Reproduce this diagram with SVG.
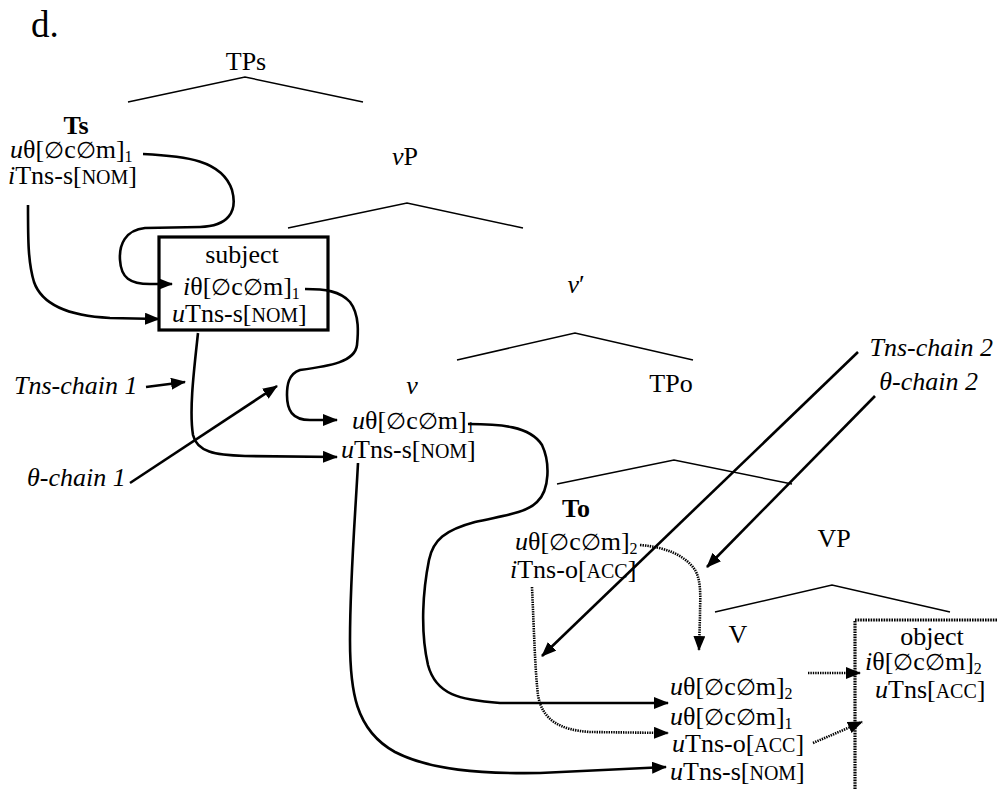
<svg xmlns="http://www.w3.org/2000/svg" width="997" height="789" viewBox="0 0 997 789">
<defs>
<style>
text{font-family:"Liberation Serif","Times New Roman","DejaVu Serif",serif;font-size:26px;fill:#000}
.it{font-style:italic}
.b{font-weight:bold}
.sc{font-size:20px}
.sub{font-size:16px}
.e{font-size:23px}
.tree{fill:none;stroke:#000;stroke-width:1.5}
.con{fill:none;stroke:#000;stroke-width:2.6}
.dot{fill:none;stroke:#000;stroke-width:2.6;stroke-dasharray:1.4 1}
.box{fill:none;stroke:#000;stroke-width:3.2}
.dbox{fill:none;stroke:#000;stroke-width:3.2;stroke-dasharray:1.6 1}
</style>
<marker id="ah" markerWidth="16" markerHeight="12" refX="14" refY="6" orient="auto" markerUnits="userSpaceOnUse">
<path d="M0,0 L15,6 L0,12 Z" fill="#000"/>
</marker>
</defs>
<text x="31" y="37" style="font-size:37px">d.</text>
<g id="tree">
<path class="tree" d="M128,102 L245,77 L363,102"/>
<path class="tree" d="M288,228 L407,203 L523,228"/>
<path class="tree" d="M457,360 L575,333 L693,360"/>
<path class="tree" d="M557,484 L674,460 L792,484"/>
<path class="tree" d="M715,612 L832,585 L950,612"/>
</g>
<g id="TPs"><text x="246" y="70" text-anchor="middle">TPs</text></g>
<g id="Ts">
<text x="76" y="134" text-anchor="middle" class="b">Ts</text>
<text x="10" y="158"><tspan class="it">u</tspan>θ[<tspan class="e">∅</tspan>c<tspan class="e">∅</tspan>m]<tspan class="sub" dy="4">1</tspan></text>
<text x="8" y="184"><tspan class="it">i</tspan>Tns-s[<tspan class="sc">NOM</tspan>]</text>
</g>
<g id="vP"><text x="405" y="165" text-anchor="middle"><tspan class="it">v</tspan>P</text></g>
<g id="subject">
<rect class="box" x="159" y="237" width="169" height="93"/>
<text x="242" y="263" text-anchor="middle">subject</text>
<text x="183" y="295"><tspan class="it">i</tspan>θ[<tspan class="e">∅</tspan>c<tspan class="e">∅</tspan>m]<tspan class="sub" dy="4">1</tspan></text>
<text x="172" y="322"><tspan class="it">u</tspan>Tns-s[<tspan class="sc">NOM</tspan>]</text>
</g>
<g id="vbar"><text x="576" y="293" text-anchor="middle"><tspan class="it">v</tspan>′</text></g>
<g id="v">
<text x="412" y="394" text-anchor="middle" class="it">v</text>
<text x="352" y="429"><tspan class="it">u</tspan>θ[<tspan class="e">∅</tspan>c<tspan class="e">∅</tspan>m]<tspan class="sub" dy="4">1</tspan></text>
<text x="341" y="458"><tspan class="it">u</tspan>Tns-s[<tspan class="sc">NOM</tspan>]</text>
</g>
<g id="TPo"><text x="671" y="392" text-anchor="middle">TPo</text></g>
<g id="labels">
<text x="993" y="356" text-anchor="end" class="it">Tns-chain 2</text>
<text x="978" y="390" text-anchor="end" class="it">θ-chain 2</text>
<text x="14" y="394" class="it">Tns-chain 1</text>
<text x="27" y="486" class="it">θ-chain 1</text>
</g>
<g id="To">
<text x="576" y="517" text-anchor="middle" class="b">To</text>
<text x="515" y="550"><tspan class="it">u</tspan>θ[<tspan class="e">∅</tspan>c<tspan class="e">∅</tspan>m]<tspan class="sub" dy="4">2</tspan></text>
<text x="510" y="578"><tspan class="it">i</tspan>Tns-o[<tspan class="sc">ACC</tspan>]</text>
</g>
<g id="VP"><text x="834" y="547" text-anchor="middle">VP</text></g>
<g id="V">
<text x="738" y="643" text-anchor="middle">V</text>
<text x="670" y="695"><tspan class="it">u</tspan>θ[<tspan class="e">∅</tspan>c<tspan class="e">∅</tspan>m]<tspan class="sub" dy="4">2</tspan></text>
<text x="670" y="725"><tspan class="it">u</tspan>θ[<tspan class="e">∅</tspan>c<tspan class="e">∅</tspan>m]<tspan class="sub" dy="4">1</tspan></text>
<text x="672" y="752"><tspan class="it">u</tspan>Tns-o[<tspan class="sc">ACC</tspan>]</text>
<text x="670" y="780"><tspan class="it">u</tspan>Tns-s[<tspan class="sc">NOM</tspan>]</text>
</g>
<g id="object">
<path class="dbox" d="M855,789 L855,620 L997,620"/>
<text x="932" y="645" text-anchor="middle">object</text>
<text x="865" y="670"><tspan class="it">i</tspan>θ[<tspan class="e">∅</tspan>c<tspan class="e">∅</tspan>m]<tspan class="sub" dy="4">2</tspan></text>
<text x="875" y="698"><tspan class="it">u</tspan>Tns[<tspan class="sc">ACC</tspan>]</text>
</g>
<g id="connectors">
<path class="con" marker-end="url(#ah)" d="M143,154 C185,156 222,160 232,190 C238,212 228,226 200,227 L145,228 C125,230 119,245 120,260 C121,278 130,284 150,284 L172,284"/>
<path class="con" marker-end="url(#ah)" d="M28,205 C28,240 28,262 34,282 C42,305 70,316 110,318 L159,319"/>
<path class="con" marker-end="url(#ah)" d="M305,289 C325,289 340,291 350,302 C360,315 358,335 357,345 C355,362 330,366 300,370 C288,374 287,386 287,395 C287,410 292,420 310,420 L337,420"/>
<path class="con" marker-end="url(#ah)" d="M198,333 C194,370 189,410 193,435 C197,452 215,455 245,456 L337,457"/>
<path class="con" marker-end="url(#ah)" d="M146,387 L185,382"/>
<path class="con" marker-end="url(#ah)" d="M130,483 L277,386"/>
<path class="con" marker-end="url(#ah)" d="M468,424 C500,424 530,426 542,445 C550,462 550,490 537,502 C525,514 500,516 475,522 C445,530 433,540 429,560 C423,590 420,630 428,665 C436,695 460,700 500,703 L668,703"/>
<path class="con" marker-end="url(#ah)" d="M358,463 C355,520 350,580 350,640 C350,690 355,730 395,752 C430,770 480,774 540,773 L666,767"/>
<path class="con" marker-end="url(#ah)" d="M858,352 L542,656"/>
<path class="con" marker-end="url(#ah)" d="M875,396 L707,567"/>
<path class="dot" marker-end="url(#ah)" d="M640,545 C665,547 685,555 695,570 C702,582 700,600 700,615 L699,650"/>
<path class="dot" marker-end="url(#ah)" d="M532,587 C534,630 535,670 538,695 C542,720 560,730 590,732 L668,733"/>
<path class="dot" marker-end="url(#ah)" d="M808,673 L860,673"/>
<path class="dot" marker-end="url(#ah)" d="M813,743 L862,722"/>
</g>
</svg>
